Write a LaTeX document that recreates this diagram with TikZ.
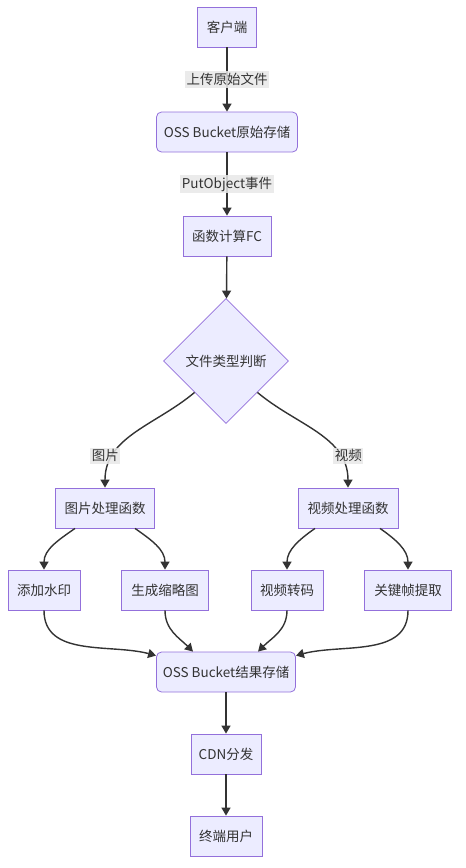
\documentclass[tikz,border=0pt]{standalone}
\usepackage{fontspec}
\setmainfont{Noto Sans CJK SC}
\usetikzlibrary{shapes.geometric,arrows.meta}

\definecolor{boxfill}{HTML}{ECECFF}
\definecolor{boxline}{HTML}{9370DB}
\definecolor{ink}{HTML}{333333}
\definecolor{lblbg}{HTML}{E8E8E8}

\tikzset{
  box/.style={draw=boxline, fill=boxfill, line width=0.8pt, minimum height=40pt, inner xsep=0pt, text=ink, font=\fontsize{13.5}{16}\selectfont},
  store/.style={box, rounded corners=5pt},
  judgebox/.style={diamond, draw=boxline, fill=boxfill, line width=0.8pt, minimum width=125pt, minimum height=125pt, inner sep=0pt, text=ink, font=\fontsize{13.5}{16}\selectfont},
  arr/.style={draw=ink, line width=1.4pt, -{Triangle[length=8pt,width=9pt]}},
  lbl/.style={fill=lblbg, fill opacity=0.85, text opacity=1, text=ink, inner xsep=1.5pt, inner ysep=2pt, font=\fontsize{13.5}{16}\selectfont}
}

\begin{document}
\begin{tikzpicture}[x=1pt,y=1pt]
\useasboundingbox (0,0) rectangle (466,-868);

\node[box, minimum width=59pt] (client) at (227,-27) {客户端};
\node[store, minimum width=141pt] (ossraw) at (227,-132) {OSS Bucket原始存储};
\node[box, minimum width=88pt] (fc) at (227,-236) {函数计算FC};
\node[judgebox] (judge) at (226,-361) {文件类型判断};

\node[box, minimum width=99pt] (imgfn) at (105,-508) {图片处理函数};
\node[box, minimum width=100pt] (vidfn) at (348,-508) {视频处理函数};

\node[box, minimum width=72pt] (wmark) at (44,-590) {添加水印};
\node[box, minimum width=87pt] (thumb) at (165,-590) {生成缩略图};
\node[box, minimum width=72pt] (trans) at (287,-590) {视频转码};
\node[box, minimum width=87pt] (keyfr) at (408,-590) {关键帧提取};

\node[store, minimum width=139pt] (ossres) at (226,-672) {OSS Bucket结果存储};
\node[box, minimum width=70pt] (cdn) at (226,-754) {CDN分发};
\node[box, minimum width=72pt] (user) at (226,-836) {终端用户};

\draw[arr] (client) -- node[lbl] {上传原始文件} (ossraw);
\draw[arr] (ossraw) -- node[lbl] {PutObject事件} (fc);
\draw[arr] (fc) -- (judge);

\draw[arr] (judge.south west) to[out=-140,in=90] node[lbl, pos=0.75, xshift=-8pt] {图片} (imgfn.north);
\draw[arr] (judge.south east) to[out=-40,in=90] node[lbl, pos=0.75, xshift=9pt] {视频} (vidfn.north);

\draw[arr] ([xshift=-30pt]imgfn.south) to[out=-145,in=90] (wmark.north);
\draw[arr] ([xshift=30pt]imgfn.south) to[out=-35,in=90] (thumb.north);
\draw[arr] ([xshift=-33pt]vidfn.south) to[out=-145,in=90] (trans.north);
\draw[arr] ([xshift=32pt]vidfn.south) to[out=-35,in=90] (keyfr.north);

\draw[arr] (wmark.south) to[out=-90,in=165] ([yshift=-4pt]ossres.north west);
\draw[arr] (thumb.south) to[out=-90,in=135] ([xshift=-33pt]ossres.north);
\draw[arr] (trans.south) to[out=-90,in=45] ([xshift=32pt]ossres.north);
\draw[arr] (keyfr.south) to[out=-90,in=15] ([yshift=-4pt]ossres.north east);

\draw[arr] (ossres) -- (cdn);
\draw[arr] (cdn) -- (user);
\end{tikzpicture}
\end{document}
